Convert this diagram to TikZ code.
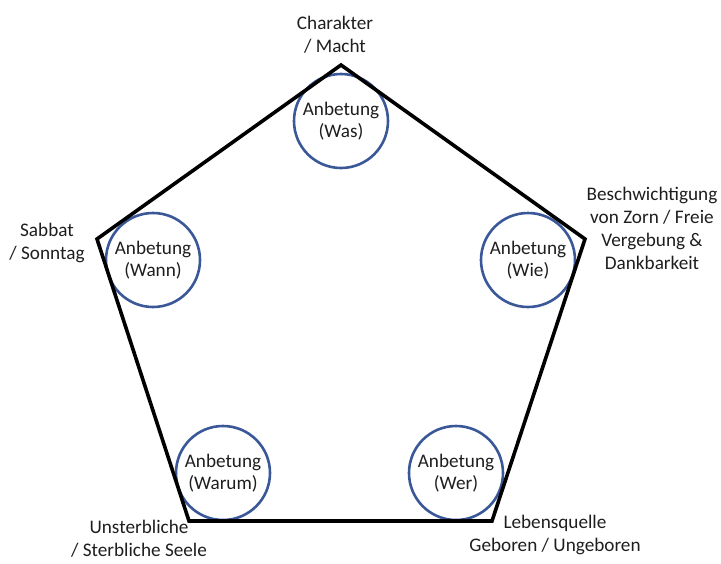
\documentclass[tikz,border=0pt]{standalone}
\usepackage{fontspec}
\setmainfont{Carlito}
\definecolor{ringblue}{RGB}{58,88,152}
\definecolor{txt}{RGB}{30,30,30}
\begin{document}
\begin{tikzpicture}[x=1pt,y=-1pt,
  ring/.style={circle,draw=ringblue,line width=2.6pt,minimum size=94pt,inner sep=0pt,
    align=center,text=txt,font=\fontsize{19.2}{22.5}\selectfont},
  lbl/.style={align=center,text=txt,inner sep=0pt,font=\fontsize{19.2}{23}\selectfont},
  edge/.style={line width=3.6pt,line join=miter,black}]
\useasboundingbox (0,0) rectangle (721,563);
% corners of the pentagon
\coordinate (ptop) at (341,65);
\coordinate (pright) at (585,239);
\coordinate (pbr) at (492,521);
\coordinate (pbl) at (189,521);
\coordinate (pleft) at (97,239);
% circles
\node[ring] (was) at (341,121) {Anbetung\\(Was)};
\node[ring] (wie) at (528,260) {Anbetung\\(Wie)};
\node[ring] (wer) at (456,473) {Anbetung\\(Wer)};
\node[ring] (warum) at (223,473) {Anbetung\\(Warum)};
\node[ring] (wann) at (153,260) {Anbetung\\(Wann)};
% pentagon outline
\draw[edge] (ptop) -- (pright) -- (pbr) -- (pbl) -- (pleft) -- cycle;
% corner labels
\node[lbl] (ltop) at (335,35) {Charakter\\/ Macht};
\node[lbl] (lright) at (652,228) {Beschwichtigung\\von Zorn / Freie\\Vergebung \&\\Dankbarkeit};
\node[lbl] (lbr) at (555,535) {Lebensquelle\\Geboren / Ungeboren};
\node[lbl] (lbl) at (139,539) {Unsterbliche\\/ Sterbliche Seele};
\node[lbl] (lleft) at (47,243) {Sabbat\\/ Sonntag};
\end{tikzpicture}
\end{document}
